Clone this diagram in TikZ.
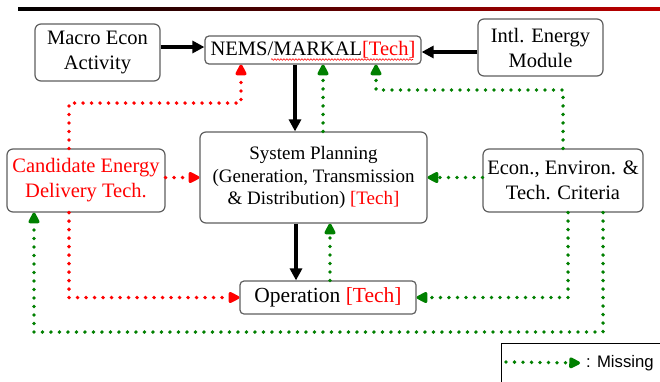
\documentclass[tikz,border=0pt]{standalone}
\usepackage{fontspec}
\setmainfont{Liberation Serif}
\newfontfamily\legendfont{Liberation Sans}
\usetikzlibrary{arrows.meta,decorations.pathmorphing}
\definecolor{gdot}{RGB}{0,128,0}
\definecolor{rdot}{RGB}{255,0,0}
\definecolor{boxline}{RGB}{95,95,95}
\definecolor{topred}{RGB}{190,0,0}
\begin{document}
\begin{tikzpicture}[x=1pt,y=-1pt,
  box/.style={draw=boxline,line width=1.2pt,rounded corners=6pt,fill=white,inner sep=0pt,align=center,font=\fontsize{20.5}{25}\selectfont},
  blk/.style={line width=3.2pt,-{Triangle[length=12pt,width=12pt]}},
  gdots/.style={gdot,line width=3.8pt,line cap=round,dash pattern=on 0pt off 8.5pt,-{Triangle[length=13pt,width=12pt,round=false]}},
  rdots/.style={rdot,line width=3.8pt,line cap=round,dash pattern=on 0pt off 8.5pt,-{Triangle[length=13pt,width=12pt,round=false]}}]
\useasboundingbox (0,0) rectangle (660,381);
\clip (0,0) rectangle (660,381);
\fill[white] (0,0) rectangle (660,381);
% top rule
\shade[left color=black,right color=topred] (18,7.8) rectangle (660,10.6);

% boxes
\node[box,minimum width=125pt,minimum height=57pt] (macro) at (97.5,52.5) {Macro Econ\\Activity};
\node[box,rounded corners=4pt,minimum width=216pt,minimum height=28pt] (nems) at (313,50) {NEMS/MARKAL\textcolor{rdot}{[Tech]}};
\node[box,minimum width=125pt,minimum height=57pt] (intl) at (540.5,47.5) {Intl. Energy\\Module};
\node[box,minimum width=227pt,minimum height=91pt,font=\fontsize{19}{22.5}\selectfont] (sys) at (313.5,177.5) {System Planning\\(Generation, Transmission\\\& Distribution) \textcolor{rdot}{[Tech]}};
\node[box,text=rdot,minimum width=158pt,minimum height=63pt] (cand) at (86,180.5) {Candidate Energy\\Delivery Tech.};
\node[box,minimum width=160pt,minimum height=63pt] (econ) at (563,180.5) {Econ., Environ. \&\\Tech. Criteria};
\node[box,rounded corners=4pt,minimum width=176pt,minimum height=33pt,font=\fontsize{21.5}{25}\selectfont] (oper) at (328,297.5) {Operation \textcolor{rdot}{[Tech]}};

% spell-check squiggle
\draw[rdot,line width=0.6pt,decorate,decoration={snake,amplitude=0.8pt,segment length=3pt}] (271,59.5) -- (413,59.5);

% black arrows
\draw[blk] ([yshift=5.5pt]macro.east) -- ([yshift=3pt]nems.west);
\draw[blk] ([yshift=-4.5pt]intl.west) -- ([yshift=-2pt]nems.east);
\draw[blk] ([xshift=-18pt]nems.south) -- ([xshift=-18.5pt]sys.north);
\draw[blk] ([xshift=-17.5pt]sys.south) -- ([xshift=-32pt]oper.north);

% green dotted (missing)
\draw[gdots] ([xshift=9.5pt]sys.north) -- ([xshift=10pt]nems.south);
\draw[gdots] ([xshift=2pt]oper.north) -- ([xshift=16.5pt]sys.south);
\coordinate (ge) at (376,90);
\draw[gdots] (econ.north) |- (ge) -- ([xshift=63pt]nems.south);
\draw[gdots] (econ.west |- sys.east) -- (sys.east);
\draw[gdots] ([xshift=5pt]econ.south) |- (oper.east);
\coordinate (gb) at (34,332);
\draw[gdots] ([xshift=40pt]econ.south) |- (gb) -- ([xshift=-52pt]cand.south);

% red dotted
\coordinate (rc) at (241,103);
\draw[rdots] ([xshift=-17pt]cand.north) |- (rc) -- ([xshift=-72pt]nems.south);
\draw[rdots] (cand.east |- sys.west) -- (sys.west);
\draw[rdots] ([xshift=-17pt]cand.south) |- (oper.west);

% legend
\draw[line width=1pt] (501,343) rectangle (670,395);
\coordinate (la) at (506,362);
\node[anchor=west,inner sep=0pt,font=\legendfont\fontsize{16.7}{19}\selectfont] (ltext) at (586,363) {: Missing};
\draw[gdots] (la) -- (ltext.west -| 580,0);
\end{tikzpicture}
\end{document}
